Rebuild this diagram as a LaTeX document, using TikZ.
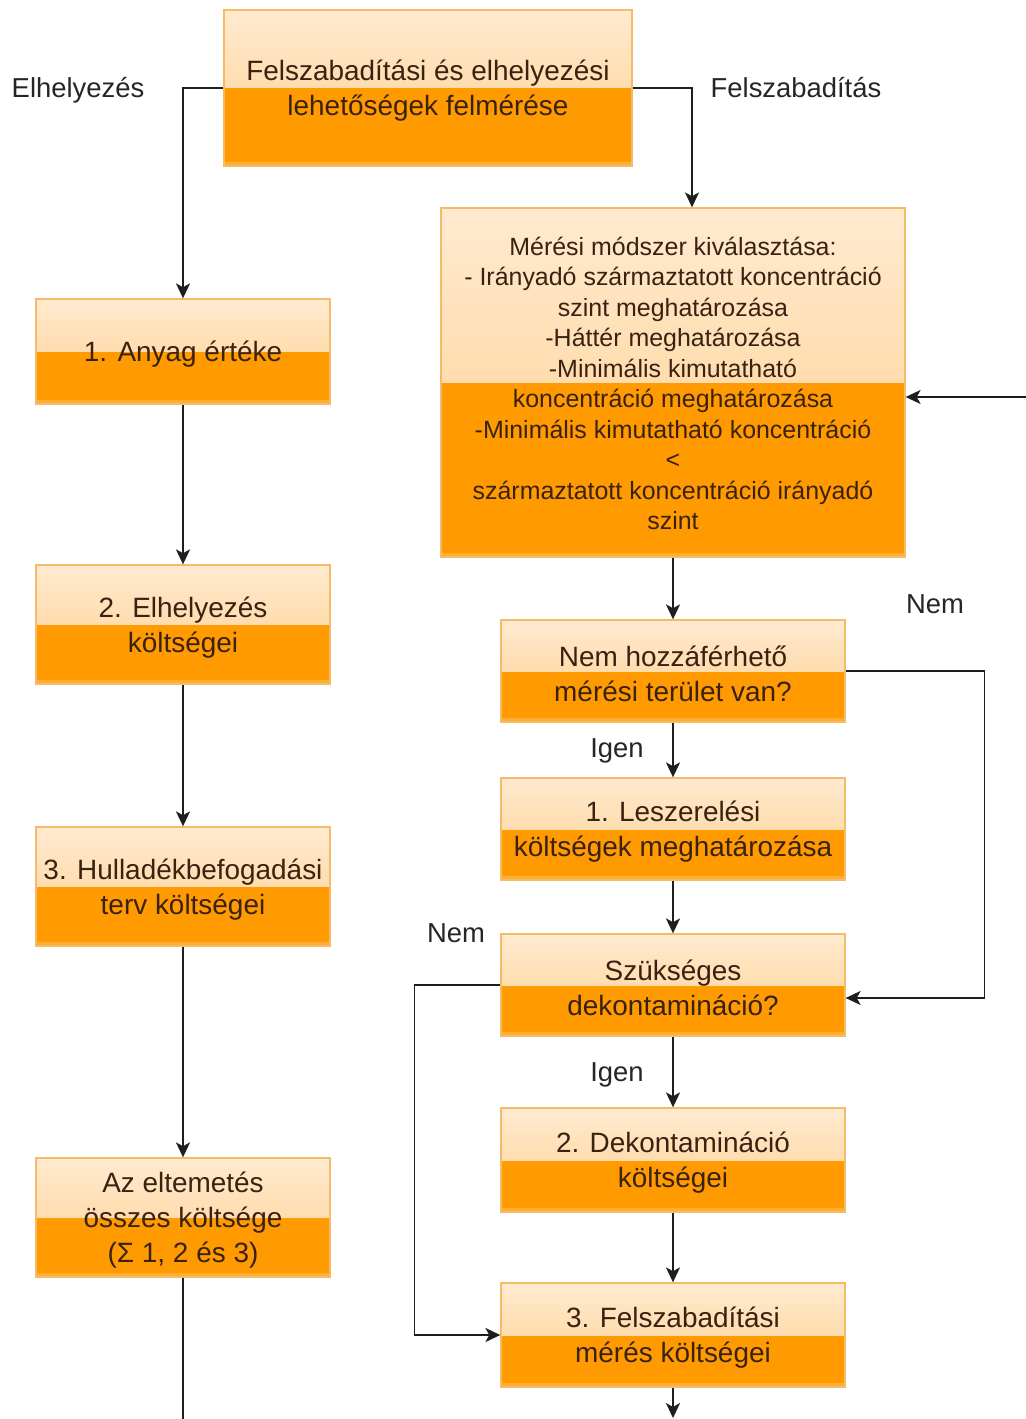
\documentclass[tikz,border=0pt]{standalone}
\usepackage{fontspec}
\setmainfont{Liberation Sans}
\usetikzlibrary{arrows.meta,calc}
\definecolor{orangebase}{HTML}{FF9A00}
\definecolor{orangelow}{HTML}{FFAE35}
\definecolor{peachtop}{HTML}{FFEAD0}
\definecolor{peachmid}{HTML}{FFCF8C}
\definecolor{boxborder}{HTML}{F4BC68}
\definecolor{txt}{HTML}{3A2212}
\definecolor{linec}{HTML}{1E1E1E}
\tikzset{
  box/.style={draw=boxborder, line width=0.8pt, fill=orangebase,
    inner sep=0pt,
    path picture={
      \fill[top color=peachtop, bottom color=peachmid]
        (path picture bounding box.north west) rectangle (path picture bounding box.east);
      \fill[orangelow]
        (path picture bounding box.south west) rectangle ([yshift=2.2pt]path picture bounding box.south east);}},
  btxt/.style={align=center, inner sep=0pt, text=txt, yshift=-1.5pt,
    font=\fontsize{15.9}{19.9}\selectfont},
  mtxt/.style={align=center, inner sep=0pt, text=txt, yshift=-0.6pt,
    font=\fontsize{14.2}{17.35}\selectfont},
  lbox/.style={box, minimum width=5.88cm},
  rbox/.style={box, minimum width=6.88cm},
  conn/.style={draw=linec, line width=0.9pt},
  arr/.style={conn, -{Stealth[length=8.5pt,width=8pt,inset=2.2pt]}},
  lbl/.style={text=black!85, font=\fontsize{15.6}{19}\selectfont, inner sep=0pt}
}
\begin{document}
\begin{tikzpicture}[x={(0.02cm,0)}, y={(0,-0.02cm)}]
\useasboundingbox[fill=white] (0,0) rectangle (1026,1419);

\node[box, minimum width=8.16cm, minimum height=3.12cm,
  label={[btxt]center:{Felszabadítási és elhelyezési\\lehetőségek felmérése}}] (top) at (428,88) {};

\node[box, minimum width=9.28cm, minimum height=6.98cm,
  label={[mtxt]center:{Mérési módszer kiválasztása:\\- Irányadó származtatott koncentráció\\szint meghatározása\\-Háttér meghatározása\\-Minimális kimutatható\\koncentráció meghatározása\\-Minimális kimutatható koncentráció\\<\\származtatott koncentráció irányadó\\szint}}] (mer) at (673,382.5) {};

\node[lbox, minimum height=2.1cm, label={[btxt]center:{1. Anyag értéke}}] (b1) at (183,351.5) {};
\node[lbox, minimum height=2.38cm, label={[btxt]center:{2. Elhelyezés\\költségei}}] (b2) at (183,624.5) {};
\node[lbox, minimum height=2.38cm, label={[btxt]center:{3. Hulladékbefogadási\\terv költségei}}] (b3) at (183,886.5) {};
\node[lbox, minimum height=2.38cm, label={[btxt]center:{Az eltemetés\\összes költsége\\(Σ 1, 2 és 3)}}] (b4) at (183,1217.5) {};

\node[rbox, minimum height=2.04cm, label={[btxt]center:{Nem hozzáférhető\\mérési terület van?}}] (r1) at (673,671) {};
\node[rbox, minimum height=2.04cm, label={[btxt]center:{1. Leszerelési\\költségek meghatározása}}] (r2) at (673,829) {};
\node[rbox, minimum height=2.04cm, label={[btxt]center:{Szükséges\\dekontamináció?}}] (r3) at (673,985) {};
\node[rbox, minimum height=2.08cm, label={[btxt]center:{2. Dekontamináció\\költségei}}] (r4) at (673,1160) {};
\node[rbox, minimum height=2.08cm, label={[btxt]center:{3. Felszabadítási\\mérés költségei}}] (r5) at (673,1335) {};

\node[lbl] (lElh) at (78,90) {Elhelyezés};
\node[lbl] (lFel) at (796,88) {Felszabadítás};
\node[lbl] (lNem1) at (935,604) {Nem};
\node[lbl] (lIgen1) at (617,751) {Igen};
\node[lbl] (lNem2) at (456,933) {Nem};
\node[lbl] (lIgen2) at (617,1075) {Igen};

\coordinate (inR) at (1026,397);
\coordinate (endL) at (183,1419);
\coordinate (endR) at (673,1418);

\draw[arr] (top.west) -| (b1.north);
\draw[arr] (top.east) -| ($(mer.north)+(19,0)$);
\draw[arr] (b1) -- (b2);
\draw[arr] (b2) -- (b3);
\draw[arr] (b3) -- (b4);
\draw[conn] (b4.south) -- (endL);
\draw[arr] (inR) -- (inR -| mer.east);
\draw[arr] (mer) -- (r1);
\draw[arr] (r1) -- (r2);
\draw[arr] (r2) -- (r3);
\draw[arr] (r3) -- (r4);
\draw[arr] (r4) -- (r5);
\draw[arr] (r5.south) -- (endR);
\draw[arr] (r1.east) -- ++(139,0) |- ($(r3.east)+(0,13)$);
\draw[arr] (r3.west) -- ++(-86,0) |- (r5.west);
\end{tikzpicture}
\end{document}
